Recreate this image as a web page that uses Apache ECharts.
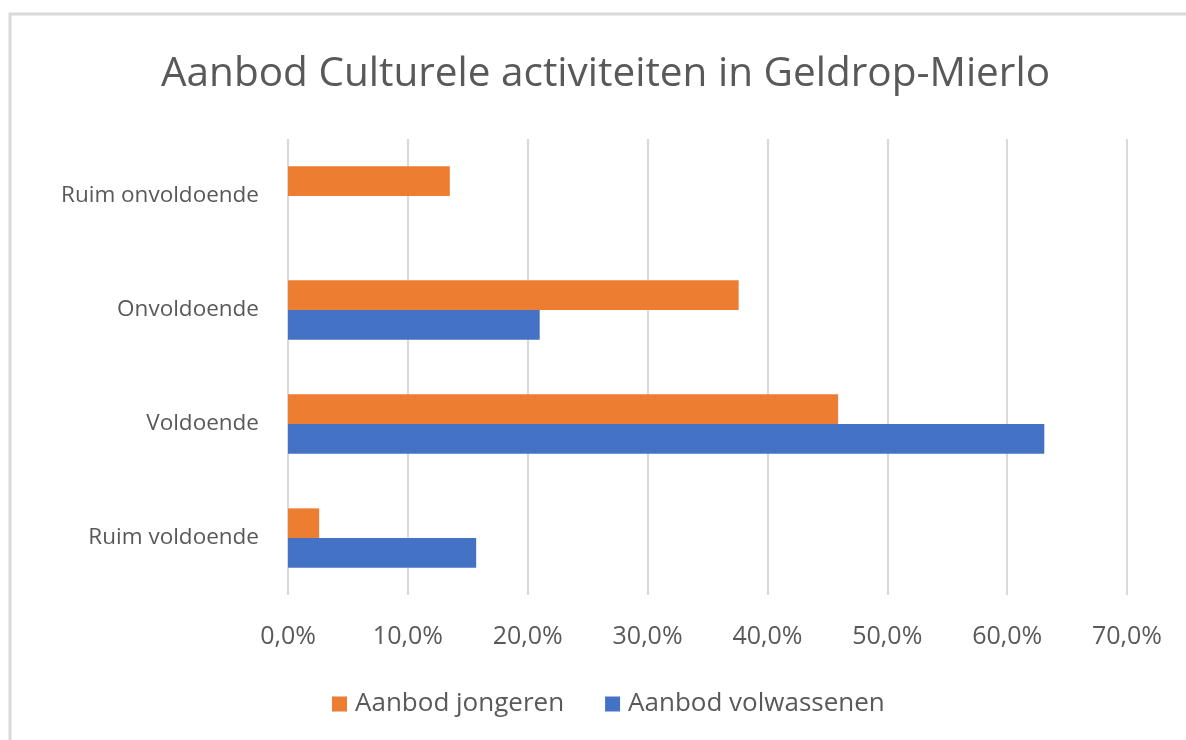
<!DOCTYPE html>
<html>
<head>
<meta charset="utf-8">
<title>Aanbod Culturele activiteiten in Geldrop-Mierlo</title>
<script src="https://cdn.jsdelivr.net/npm/echarts@6/dist/echarts.min.js"></script>
<style>
  html, body { margin: 0; padding: 0; background: #fff; }
  #chart { width: 1186px; height: 740px; }
</style>
</head>
<body>
<div id="chart"></div>
<script>
// categories top to bottom
const categories = ['Ruim onvoldoende', 'Onvoldoende', 'Voldoende', 'Ruim voldoende'];
// percentages
const jongeren = [13.5, 37.6, 45.9, 2.6];
const volwassenen = [0, 21.0, 63.1, 15.7];
const xTicks = [0, 10, 20, 30, 40, 50, 60, 70];

const chart = echarts.init(document.getElementById('chart'));
const fontFamily = '"Open Sans", "Noto Sans", sans-serif';

const option = {
    animation: false,
    textStyle: { fontFamily: fontFamily },
    title: {
        text: 'Aanbod Culturele activiteiten in Geldrop-Mierlo',
        left: 156,
        top: 49,
        textStyle: {
            fontFamily: fontFamily,
            fontSize: 40.5,
            fontWeight: 'normal',
            color: '#595959'
        }
    },
    graphic: [{
        type: 'rect',
        shape: { x: 10, y: 14, width: 1300, height: 900 },
        style: { fill: 'none', stroke: '#d9d9d9', lineWidth: 3 },
        silent: true
    }],
    legend: {
        bottom: 18,
        left: 327,
        itemWidth: 15,
        itemHeight: 15,
        itemGap: 41,
        icon: 'rect',
        textStyle: { fontSize: 26, color: '#595959', fontFamily: fontFamily, padding: [0, 0, 0, 3] },
        data: ['Aanbod jongeren', 'Aanbod volwassenen']
    },
    grid: {
        left: 288,
        right: 59,
        top: 139,
        bottom: 145
    },
    xAxis: {
        type: 'value',
        min: xTicks[0],
        max: xTicks[xTicks.length - 1],
        interval: 10,
        axisLine: { show: false },
        axisTick: { show: false },
        axisLabel: {
            fontSize: 25,
            color: '#595959',
            margin: 29,
            formatter: v => v.toFixed(1).replace('.', ',') + '%'
        },
        splitLine: { lineStyle: { color: '#d9d9d9', width: 2 } }
    },
    yAxis: {
        type: 'category',
        inverse: true,
        data: categories,
        axisLine: { show: false },
        axisTick: { show: false },
        axisLabel: { fontSize: 22.5, color: '#595959', margin: 29 }
    },
    series: [
        {
            name: 'Aanbod jongeren',
            type: 'bar',
            data: jongeren,
            barGap: '0%',
            barCategoryGap: '48%',
            itemStyle: { color: '#ED7D31' }
        },
        {
            name: 'Aanbod volwassenen',
            type: 'bar',
            data: volwassenen,
            barGap: '0%',
            barCategoryGap: '48%',
            itemStyle: { color: '#4472C4' }
        }
    ]
};

chart.setOption(option);
</script>
</body>
</html>
